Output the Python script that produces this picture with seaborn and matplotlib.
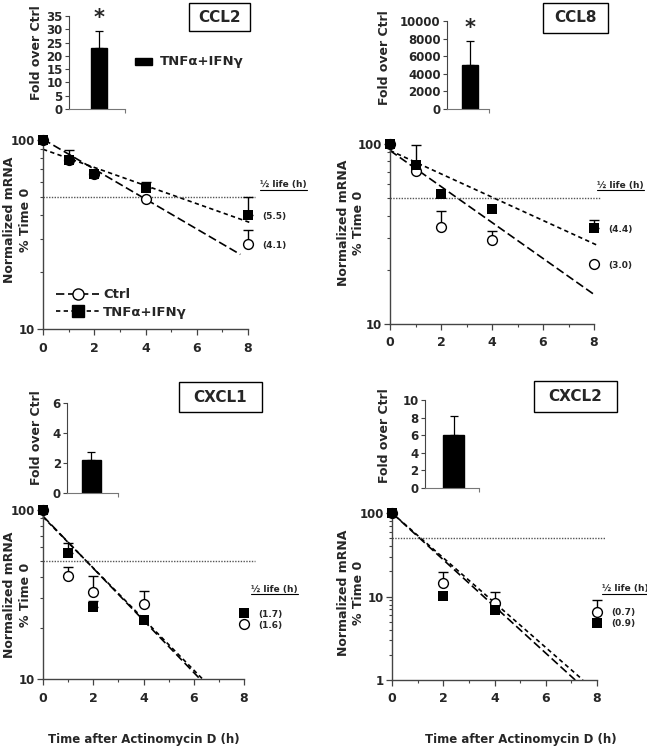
import numpy as np
import pandas as pd
import matplotlib
matplotlib.use("Agg")
import matplotlib.pyplot as plt
import seaborn as sns
from matplotlib.lines import Line2D
from matplotlib.patches import Rectangle
from matplotlib.ticker import FixedLocator, FixedFormatter, LogLocator, NullFormatter

nan = np.nan

# ---------------- data ----------------
genes = ["CCL2", "CCL8", "CXCL1", "CXCL2"]

fold_mean = [23.0, 5050.0, 2.2, 6.0]
fold_err_top = [29.5, 7750.0, 2.73, 8.2]
fold_star = ["*", "*", "", ""]
fold_ymax = [35, 10000, 6, 10]
fold_ystep = [5, 2000, 2, 2]

ccl2_t = [0, 1, 2, 4, 8]
ccl2_ctrl = [100, 78, 66, 49, 28]
ccl2_ctrl_top = [nan, nan, nan, nan, 33.4]
ccl2_tnf = [100, 78, 66, 55.5, 40]
ccl2_tnf_top = [nan, 88, nan, 60, 50]

ccl8_t = [0, 1, 2, 4, 8]
ccl8_ctrl = [100, 71, 34.7, 29.3, 21.5]
ccl8_ctrl_top = [nan, nan, 42.6, 33, nan]
ccl8_tnf = [100, 76, 52.7, 43.5, 34.3]
ccl8_tnf_top = [nan, 99, nan, nan, 38]

cxcl1_t = [0, 1, 2, 4, 8]
cxcl1_ctrl = [100, 40.7, 32.6, 27.8, 21.1]
cxcl1_ctrl_top = [nan, 46, 40.7, 33, nan]
cxcl1_tnf = [100, 55.5, 26.6, 22.2, 24.5]
cxcl1_tnf_top = [nan, 64, 29, nan, nan]

cxcl2_t = [0, 2, 4, 8]
cxcl2_ctrl = [100, 14.7, 8.3, 6.6]
cxcl2_ctrl_top = [nan, 19.9, 11.3, 9.1]
cxcl2_tnf = [100, 10.2, 6.9, 4.87]
cxcl2_tnf_top = [nan, nan, 8.0, nan]

# fitted decay lines (start/end)
ccl2_fit_ctrl_t, ccl2_fit_ctrl_y = [0, 7.7], [101, 24.8]
ccl2_fit_tnf_t, ccl2_fit_tnf_y = [0, 8.05], [89.3, 36.7]
ccl8_fit_ctrl_t, ccl8_fit_ctrl_y = [0, 8.0], [92, 14.6]
ccl8_fit_tnf_t, ccl8_fit_tnf_y = [0, 8.1], [92, 27.5]
cxcl1_fit_ctrl_t, cxcl1_fit_ctrl_y = [0, 6.25], [92, 10]
cxcl1_fit_tnf_t, cxcl1_fit_tnf_y = [0, 6.35], [91, 10]
cxcl2_fit_ctrl_t, cxcl2_fit_ctrl_y = [0, 7.15], [100, 1]
cxcl2_fit_tnf_t, cxcl2_fit_tnf_y = [0, 7.45], [100, 1]

half_ctrl = ["(4.1)", "(3.0)", "(1.6)", "(0.7)"]
half_tnf = ["(5.5)", "(4.4)", "(1.7)", "(0.9)"]
half_level = 50

series = [
    (ccl2_t, ccl2_ctrl, ccl2_ctrl_top, ccl2_tnf, ccl2_tnf_top,
     ccl2_fit_ctrl_t, ccl2_fit_ctrl_y, ccl2_fit_tnf_t, ccl2_fit_tnf_y),
    (ccl8_t, ccl8_ctrl, ccl8_ctrl_top, ccl8_tnf, ccl8_tnf_top,
     ccl8_fit_ctrl_t, ccl8_fit_ctrl_y, ccl8_fit_tnf_t, ccl8_fit_tnf_y),
    (cxcl1_t, cxcl1_ctrl, cxcl1_ctrl_top, cxcl1_tnf, cxcl1_tnf_top,
     cxcl1_fit_ctrl_t, cxcl1_fit_ctrl_y, cxcl1_fit_tnf_t, cxcl1_fit_tnf_y),
    (cxcl2_t, cxcl2_ctrl, cxcl2_ctrl_top, cxcl2_tnf, cxcl2_tnf_top,
     cxcl2_fit_ctrl_t, cxcl2_fit_ctrl_y, cxcl2_fit_tnf_t, cxcl2_fit_tnf_y),
]
ymins = [10, 10, 10, 1]

# ---------------- layout (pixels) ----------------
W, H = 647, 750
main_box = [(43, 140, 248, 329), (390, 144, 594, 324), (43, 510, 244, 679), (392, 513, 597, 680)]
inset_box = [(69, 16, 125, 109), (447, 21, 489, 109), (67, 403, 118, 493), (425, 400, 479, 488)]
inset_xlim = [(-1.5, 1.3), (-1.15, 0.95), (-1.03, 1.12), (-1.09, 0.97)]
gene_box = [(189, 3, 250, 31), (543, 3, 608, 33), (179, 382, 262, 412), (534, 381, 617, 412)]
ylabel_pos = [(17.5, 220), (351, 223), (17.5, 595), (351, 593)]
fold_label_pos = [(36, 53), (385, 58), (37, 438), (385, 436)]
half_title_pos = [(1.06, 0.762), (1.015, 0.772), (1.035, 0.532), (1.024, 0.545)]
dotted_xmax = [1.035, 1.035, 1.055, 1.04]

sns.set_style("ticks")
plt.rcParams["font.family"] = ["DejaVu Sans"]
plt.rcParams["font.weight"] = "bold"

fig = plt.figure(figsize=(W / 100, H / 100), dpi=100)
SPC = "#444444"


def add_ax(box):
    l, t, r, b = box
    return fig.add_axes([l / W, 1 - b / H, (r - l) / W, (b - t) / H])


half_titles = []
for i, g in enumerate(genes):
    # ---------- inset bar ----------
    axi = add_ax(inset_box[i])
    dfb = pd.DataFrame({"cond": ["TNFa+IFNg"], "fold": [fold_mean[i]]})
    sns.barplot(data=dfb, x="cond", y="fold", color="black", width=0.8,
                saturation=1, ax=axi, errorbar=None, edgecolor="black")
    axi.errorbar([0], [fold_mean[i]], yerr=[[0], [fold_err_top[i] - fold_mean[i]]],
                 fmt="none", ecolor="black", elinewidth=0.9, capsize=3, capthick=0.9)
    axi.set_xlim(*inset_xlim[i])
    axi.set_ylim(0, fold_ymax[i])
    axi.set_yticks(np.arange(0, fold_ymax[i] + 1, fold_ystep[i]))
    axi.set_xticks([inset_xlim[i][1]])
    axi.set_xticklabels([""])
    axi.set_xlabel("")
    axi.set_ylabel("")
    for s in ["top", "right"]:
        axi.spines[s].set_visible(False)
    axi.spines["left"].set_color(SPC)
    axi.spines["bottom"].set_color("#777777")
    axi.tick_params(axis="y", length=3, width=0.8, color=SPC, pad=1.5, labelsize=8.5)
    axi.tick_params(axis="x", length=3, width=0.8, color="#777777")
    for lab in axi.get_yticklabels():
        lab.set_fontweight("bold")
    if fold_star[i]:
        axi.annotate(fold_star[i], (0, fold_err_top[i]), xytext=(0, 9),
                     textcoords="offset points", ha="center", va="center",
                     fontsize=15, fontweight="bold", annotation_clip=False)
    fx, fy = fold_label_pos[i]
    fig.text(fx / W, 1 - fy / H, "Fold over Ctrl", rotation=90, ha="center", va="center",
             fontsize=9, fontweight="bold")

    # ---------- gene box ----------
    l, t, r, b = gene_box[i]
    fig.add_artist(Rectangle((l / W, 1 - b / H), (r - l) / W, (b - t) / H,
                             transform=fig.transFigure, fill=False, lw=1, edgecolor="black"))
    fig.text((l + r) / 2 / W, 1 - (t + b) / 2 / H, g, ha="center", va="center",
             fontsize=11, fontweight="bold")

    # ---------- main decay plot ----------
    ax = add_ax(main_box[i])
    (tt, yc, yct, yt, ytt, fct, fcy, ftt, fty) = series[i]
    ax.set_yscale("log")
    sns.lineplot(x=fct, y=fcy, ax=ax, color="black", lw=1.2,
                 linestyle=(0, (5, 2.2)), clip_on=False)
    sns.lineplot(x=ftt, y=fty, ax=ax, color="black", lw=1.2,
                 linestyle=(0, (2.6, 2)), clip_on=False)
    ax.axhline(half_level, xmin=0, xmax=dotted_xmax[i], color="#555555",
               lw=1.0, linestyle=(0, (1, 1)), clip_on=False)
    # error bars (upper only)
    for vals, tops in [(yc, yct), (yt, ytt)]:
        v = np.array(vals, float)
        tp = np.array(tops, float)
        m = ~np.isnan(tp)
        if m.any():
            ax.errorbar(np.array(tt)[m], v[m], yerr=[np.zeros(m.sum()), (tp - v)[m]],
                        fmt="none", ecolor="black", elinewidth=1.0, capsize=3.5,
                        capthick=1.0, clip_on=False)
    sns.scatterplot(x=tt, y=yc, ax=ax, marker="o", s=50, facecolor="white",
                    edgecolor="black", linewidth=1.0, clip_on=False, zorder=4)
    sns.scatterplot(x=tt, y=yt, ax=ax, marker="s", s=62, color="black",
                    linewidth=0, clip_on=False, zorder=5)
    ax.set_xlim(0, 8)
    ax.set_ylim(ymins[i], 100)
    ax.set_xticks([0, 2, 4, 6, 8])
    ax.set_xticks([1, 3, 5, 7], minor=True)
    majors = [v for v in [1, 10, 100] if v >= ymins[i]]
    ax.yaxis.set_major_locator(FixedLocator(majors))
    ax.yaxis.set_major_formatter(FixedFormatter([str(v) for v in majors]))
    ax.yaxis.set_minor_locator(LogLocator(base=10, subs=np.arange(2, 10)))
    ax.yaxis.set_minor_formatter(NullFormatter())
    for s in ["top", "right"]:
        ax.spines[s].set_visible(False)
    for s in ["left", "bottom"]:
        ax.spines[s].set_color(SPC)
        ax.spines[s].set_linewidth(1.0)
    ax.tick_params(axis="both", which="major", length=4, width=0.9, color=SPC)
    ax.tick_params(axis="both", which="minor", length=2.5, width=0.8, color=SPC)
    ax.tick_params(axis="y", which="major", labelsize=8.5, pad=2)
    ax.tick_params(axis="x", which="major", labelsize=9, pad=5)
    for lab in ax.get_xticklabels() + ax.get_yticklabels():
        lab.set_fontweight("bold")
    ax.set_xlabel("")
    ax.set_ylabel("")

    # half-life labels
    ax.annotate(half_tnf[i], (tt[-1], yt[-1]), xytext=(10, -1), textcoords="offset points",
                ha="left", va="center", fontsize=6.5, fontweight="bold", annotation_clip=False)
    ax.annotate(half_ctrl[i], (tt[-1], yc[-1]), xytext=(10, -1), textcoords="offset points",
                ha="left", va="center", fontsize=6.5, fontweight="bold", annotation_clip=False)
    hx, hy = half_title_pos[i]
    ht = ax.text(hx, hy, "½ life (h)", transform=ax.transAxes, ha="left", va="center",
                 fontsize=6.5, fontweight="bold")
    half_titles.append(ht)

    yx, yy = ylabel_pos[i]
    fig.text(yx / W, 1 - yy / H, "Normalized mRNA\n% Time 0", rotation=90, ha="center",
             va="center", multialignment="center", fontsize=9, fontweight="bold",
             linespacing=1.25)

    if i == 0:
        handles = [
            Line2D([0], [0], color="black", lw=1.2, linestyle=(0, (5, 2.2)), marker="o",
                   markerfacecolor="white", markeredgecolor="black", markersize=8),
            Line2D([0], [0], color="black", lw=1.2, linestyle=(0, (2.6, 2)), marker="s",
                   markerfacecolor="black", markeredgecolor="black", markersize=8),
        ]
        ax.legend(handles, ["Ctrl", "TNFα+IFNγ"], loc="upper left",
                  bbox_to_anchor=(0.03, 0.25), frameon=False, handlelength=3.3,
                  handletextpad=0.3, labelspacing=0.35, borderpad=0,
                  prop={"size": 9.5, "weight": "bold"})

# top legend for bar insets
fig.add_artist(Rectangle((135 / W, 1 - 65 / H), 17 / W, 7 / H, transform=fig.transFigure,
                         facecolor="black", edgecolor="black"))
fig.text(160 / W, 1 - 62 / H, "TNFα+IFNγ", ha="left", va="center", fontsize=9.5,
         fontweight="bold")

# x labels
fig.text(144 / W, 1 - 739 / H, "Time after Actinomycin D (h)", ha="center", va="center",
         fontsize=8.5, fontweight="bold")
fig.text(521 / W, 1 - 739 / H, "Time after Actinomycin D (h)", ha="center", va="center",
         fontsize=8.5, fontweight="bold")

# underline for half-life titles
fig.canvas.draw()
for ht in half_titles:
    bb = ht.get_window_extent()
    fig.add_artist(Line2D([bb.x0 / W, bb.x1 / W], [(bb.y0 - 0.5) / H, (bb.y0 - 0.5) / H],
                          transform=fig.transFigure, color="black", lw=0.8))

fig.savefig("out.png", dpi=100)
